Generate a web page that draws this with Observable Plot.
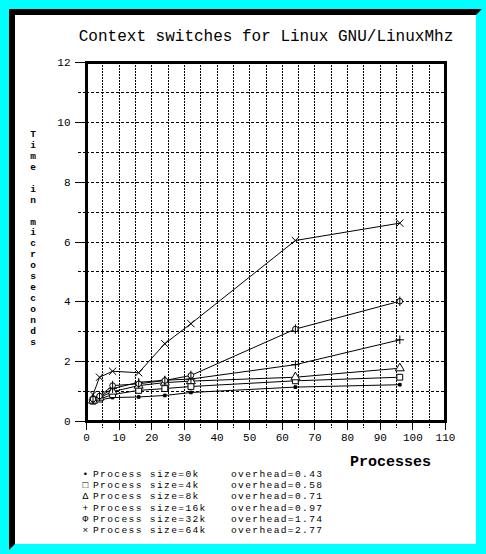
<!DOCTYPE html>
<html><head><meta charset="utf-8">
<script src="https://cdn.jsdelivr.net/npm/d3@7"></script>
<script src="https://cdn.jsdelivr.net/npm/@observablehq/plot@0.6"></script>
<style>
html,body{margin:0;padding:0;background:#00ffff;}
#page{position:relative;width:486px;height:554px;overflow:hidden;background:#00ffff;font-family:"Liberation Mono","DejaVu Sans Mono",monospace;color:#000;}
#panel{position:absolute;left:9px;top:9px;width:461px;height:529px;background:#fff;border-style:solid;border-width:6px;border-color:#000 #00ffff #00ffff #000;}
#chart{position:absolute;left:0;top:0;}
#title{position:absolute;left:66px;width:400px;top:29px;font-size:16px;line-height:16px;text-align:center;white-space:pre;}
#ylabel{position:absolute;left:26px;width:14px;top:130px;font-size:9.5px;font-weight:bold;line-height:10.95px;text-align:center;}
#ylabel span{display:block;height:10.95px;}
#xlabel{position:absolute;left:350px;top:455px;font-size:15px;font-weight:bold;line-height:16px;white-space:pre;}
.leg{position:absolute;font-size:9.6px;line-height:11px;letter-spacing:1.35px;white-space:pre;}
</style></head>
<body>
<div id="page">
  <div id="panel"></div>
  <div id="chart"></div>
  <div id="title"></div>
  <div id="ylabel"></div>
  <div id="xlabel"></div>
  <div id="legend"></div>
</div>
<script>
const titleText = "Context switches for Linux GNU/LinuxMhz";
const yLabelText = "Time in microseconds";
const xLabelText = "Processes";
const procs = [2, 4, 8, 16, 24, 32, 64, 96];
const size0k  = [0.65, 0.72, 0.80, 0.82, 0.87, 0.97, 1.15, 1.23];
const size4k  = [0.68, 0.75, 0.90, 1.04, 1.10, 1.17, 1.36, 1.48];
const size8k  = [0.70, 0.80, 1.00, 1.20, 1.30, 1.35, 1.48, 1.78];
const size16k = [0.72, 0.82, 1.10, 1.31, 1.38, 1.42, 1.90, 2.73];
const size32k = [0.75, 0.85, 1.20, 1.26, 1.37, 1.54, 3.09, 4.02];
const size64k = [0.90, 1.48, 1.68, 1.63, 2.60, 3.27, 6.05, 6.63];
const seriesNames = ["0k", "4k", "8k", "16k", "32k", "64k"];
const overheads = ["0.43", "0.58", "0.71", "0.97", "1.74", "2.77"];
const legendGlyphs = ["\u2022", "\u25A1", "\u0394", "+", "\u03A6", "\u00D7"];
const xTicks = [0, 10, 20, 30, 40, 50, 60, 70, 80, 90, 100, 110];
const xMinorTicks = [5, 15, 25, 35, 45, 55, 65, 75, 85, 95, 105];
const yTicks = [0, 2, 4, 6, 8, 10, 12];
const yMinorTicks = [1, 3, 5, 7, 9, 11];
const yGridTicks = [1, 2, 3, 4, 5, 6, 7, 8, 9, 10, 11];
const xGridTicks = [5, 10, 15, 20, 25, 30, 35, 40, 45, 50, 55, 60, 65, 70, 75, 80, 85, 90, 95, 100, 105];

const allSeries = [size0k, size4k, size8k, size16k, size32k, size64k];
const rows = [];
allSeries.forEach((vals, i) => vals.forEach((v, j) => rows.push({s: seriesNames[i], p: procs[j], t: v})));

const phi = {draw(ctx, size) {
  const r = Math.sqrt(size / Math.PI);
  ctx.moveTo(r, 0); ctx.arc(0, 0, r, 0, 2 * Math.PI);
  ctx.moveTo(0, -r * 1.7); ctx.lineTo(0, r * 1.7);
}};
const markerStyles = [
  {symbol: "square", fill: "black", stroke: "black", r: 1.5},
  {symbol: "square", fill: "white", stroke: "black", r: 3.3},
  {symbol: "triangle", fill: "white", stroke: "black", r: 3.3},
  {symbol: "plus", fill: "none", stroke: "black", r: 2.9},
  {symbol: phi, fill: "white", stroke: "black", r: 2.8},
  {symbol: "times", fill: "none", stroke: "black", r: 3.4}
];

const plot = Plot.plot({
  width: 486, height: 450,
  marginLeft: 86, marginRight: 41, marginTop: 62, marginBottom: 29,
  style: {background: "transparent", color: "black", fontFamily: "'Liberation Mono','DejaVu Sans Mono',monospace"},
  x: {domain: [0, 110], axis: null},
  y: {domain: [0, 12], axis: null},
  marks: [
    Plot.gridY({ticks: yGridTicks, stroke: "black", strokeOpacity: 1, strokeDasharray: "3,2", shapeRendering: "crispEdges"}),
    Plot.gridX({ticks: xGridTicks, stroke: "black", strokeOpacity: 1, strokeDasharray: "2,1", shapeRendering: "crispEdges"}),
    Plot.axisY({ticks: yMinorTicks, tickSize: 8, text: null, label: null, strokeDasharray: "3,2", shapeRendering: "crispEdges"}),
    Plot.axisX({ticks: xMinorTicks, tickSize: 7, text: null, label: null, strokeDasharray: "2,1", shapeRendering: "crispEdges"}),
    Plot.axisY({ticks: yTicks, tickSize: 11, tickPadding: 5, fontSize: 11, label: null, tickFormat: d => String(d), shapeRendering: "crispEdges"}),
    Plot.axisX({ticks: xTicks, tickSize: 9, tickPadding: 3, fontSize: 11, label: null, tickFormat: d => String(d), shapeRendering: "crispEdges"}),
    Plot.frame({stroke: "black", strokeWidth: 3, shapeRendering: "crispEdges"}),
    Plot.line(rows, {x: "p", y: "t", z: "s", stroke: "black", strokeWidth: 1}),
    ...seriesNames.map((name, i) => Plot.dot(rows.filter(d => d.s === name), {
      x: "p", y: "t", symbol: markerStyles[i].symbol, r: markerStyles[i].r,
      fill: markerStyles[i].fill, stroke: markerStyles[i].stroke, strokeWidth: 1
    }))
  ]
});
document.getElementById("chart").appendChild(plot);

document.getElementById("title").textContent = titleText;
document.getElementById("xlabel").textContent = xLabelText;
const yl = document.getElementById("ylabel");
for (const ch of yLabelText) {
  const s = document.createElement("span");
  s.textContent = ch === " " ? "\u00A0" : ch;
  yl.appendChild(s);
}
const legendY = [469, 480.2, 491.4, 502.6, 513.8, 525];
const leg = document.getElementById("legend");
seriesNames.forEach((name, i) => {
  const g = document.createElement("div"); g.className = "leg";
  g.style.left = "80px"; g.style.top = legendY[i] + "px"; g.style.width = "11px"; g.style.textAlign = "center"; g.style.letterSpacing = "0";
  g.textContent = legendGlyphs[i];
  const a = document.createElement("div"); a.className = "leg";
  a.style.left = "93px"; a.style.top = legendY[i] + "px";
  a.textContent = "Process size=" + name;
  const b = document.createElement("div"); b.className = "leg";
  b.style.left = "231px"; b.style.top = legendY[i] + "px";
  b.textContent = "overhead=" + overheads[i];
  leg.append(g, a, b);
});
</script>
</body></html>
